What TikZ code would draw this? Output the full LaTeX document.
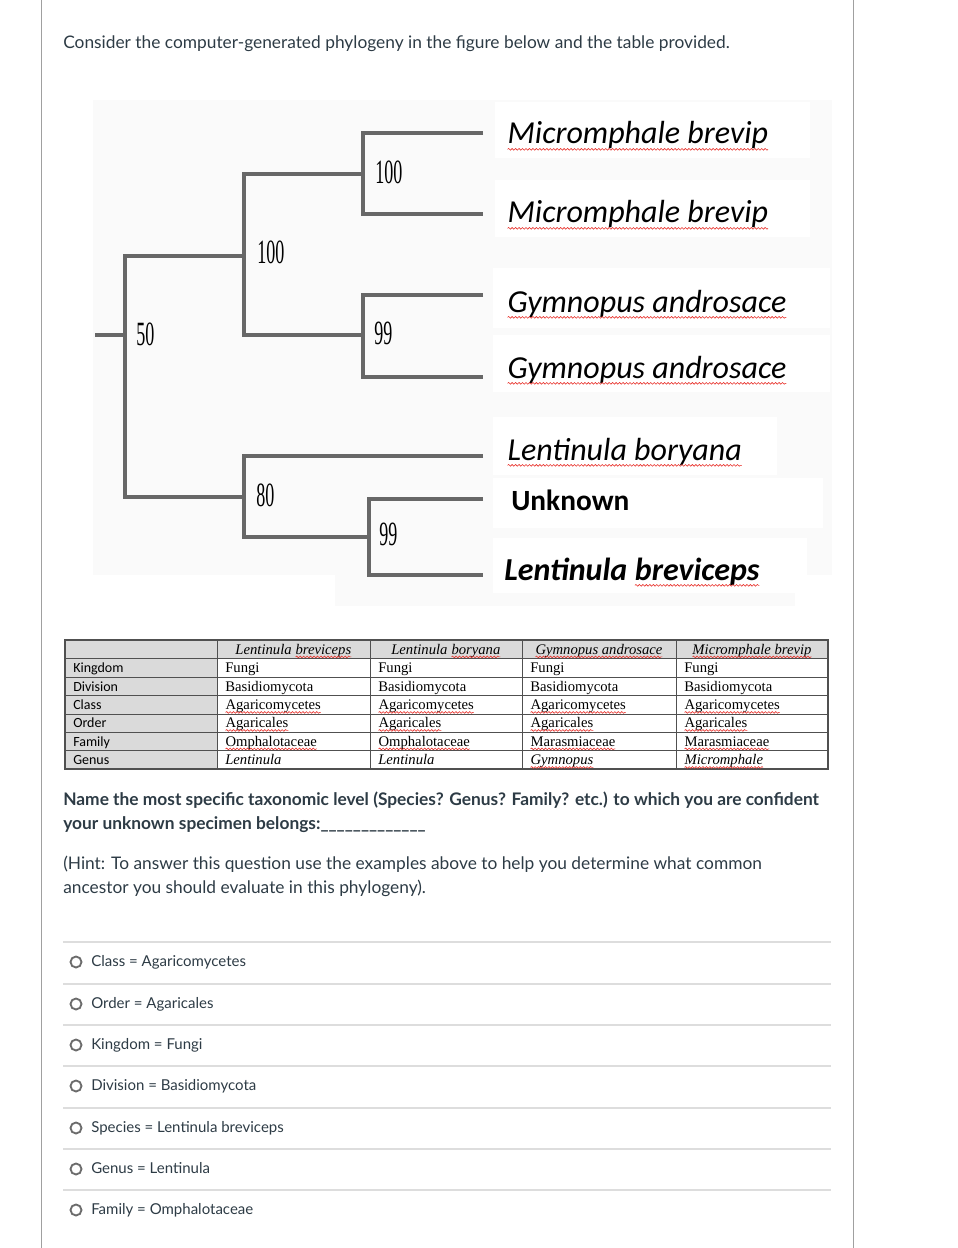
\documentclass[tikz,border=0pt]{standalone}
\usepackage{fontspec}
\usepackage{graphicx}
\setmainfont{Lato}
\newfontfamily\carlito{Carlito}
\newfontfamily\tnr{Liberation Serif}
\usetikzlibrary{decorations.pathmorphing}

\definecolor{txt}{HTML}{2D3B45}
\definecolor{branchgray}{HTML}{676767}
\definecolor{cellgray}{HTML}{DADADA}
\definecolor{gridline}{HTML}{505050}
\definecolor{rulegray}{HTML}{DDDDDD}
\definecolor{framegray}{HTML}{A0A0A0}
\definecolor{bgshade}{HTML}{FAFAFA}
\definecolor{spellred}{HTML}{E8302A}

% red spell-check wave under a word
\newcommand\spell[2][2.2pt]{\tikz[baseline=(sw.base), x=1pt, y=1pt]{%
  \node[inner sep=0pt, outer sep=0pt, anchor=base] (sw) {#2};
  \draw[spellred, line width=0.45pt, decorate,
    decoration={snake, amplitude=0.65pt, segment length=2.6pt}]
    ([yshift=-#1]sw.base west) -- ([yshift=-#1]sw.base east);}}
% squeezed bootstrap numbers
\newcommand\narrow[1]{\scalebox{0.53}[1]{#1}}

\begin{document}
\begin{tikzpicture}[x=0.75pt, y=-0.75pt,
  branch/.style={draw=branchgray, line width=3pt},
  boot/.style={anchor=west, inner sep=0pt, font=\tnr\fontsize{25.5}{26}\selectfont},
  taxon/.style={anchor=base west, inner sep=0pt, font=\carlito\itshape\fontsize{24}{28}\selectfont},
  head/.style={anchor=base, inner sep=0pt, font=\tnr\itshape\fontsize{11}{13}\selectfont},
  cell/.style={anchor=base west, inner sep=0pt, font=\tnr\fontsize{11}{13}\selectfont},
  rank/.style={anchor=base west, inner sep=0pt, font=\carlito\fontsize{10.5}{12}\selectfont},
  para/.style={anchor=base west, inner sep=0pt, text=txt, font=\fontsize{13}{15}\selectfont},
  opt/.style={anchor=base west, inner sep=0pt, text=txt, font=\fontsize{11.25}{13}\selectfont},
  radio/.style={circle, draw=gray!85!black, line width=1.4pt, minimum size=8.25pt, inner sep=0pt}]

\useasboundingbox (0,0) rectangle (957,1248);

% Page frame
\draw[framegray, line width=0.75pt] (41,0) -- (41,1248);
\draw[framegray, line width=0.75pt] (853,0) -- (853,1248);

% Intro line
\node[para] (intro) at (63,49) {Consider the computer-generated phylogeny in the figure below and the table provided.};

% Figure background and label boxes
\fill[bgshade] (93,100) rectangle (832,575);
\fill[bgshade] (335,575) rectangle (795,606);
\fill[white] (495,102) rectangle (810,158);
\fill[white] (495,180) rectangle (810,237);
\fill[white] (493,268) rectangle (830,328);
\fill[white] (493,335) rectangle (830,392);
\fill[white] (493,417) rectangle (777,475);
\fill[white] (493,478) rectangle (823,528);
\fill[white] (493,538) rectangle (807,593);

% Tree nodes
\coordinate (root) at (95,335);
\coordinate (n50) at (125,335);
\coordinate (nA) at (244,256);
\coordinate (nM) at (363,174);
\coordinate (nG) at (363,335);
\coordinate (nL) at (244,497);
\coordinate (nU) at (369,537);

% Leaves
\coordinate (l1) at (483,133);
\coordinate (l2) at (483,214);
\coordinate (l3) at (483,295);
\coordinate (l4) at (483,377);
\coordinate (l5) at (483,456);
\coordinate (l6) at (483,499);
\coordinate (l7) at (483,575);

% Branches
\draw[branch] (root) -- (n50);
\draw[branch] (nA) -| (n50) |- (nL);
\draw[branch] (nM) -| (nA) |- (nG);
\draw[branch] (l1) -| (nM) |- (l2);
\draw[branch] (l3) -| (nG) |- (l4);
\draw[branch] (l5) -| (nL) |- (nU);
\draw[branch] (l6) -| (nU) |- (l7);

% Bootstrap values
\node[boot] (b50) at (136,334) {\narrow{50}};
\node[boot] (bA) at (257,252) {\narrow{100}};
\node[boot] (bM) at (375,172) {\narrow{100}};
\node[boot] (bG) at (374,333) {\narrow{99}};
\node[boot] (bL) at (256,495) {\narrow{80}};
\node[boot] (bU) at (379,534) {\narrow{99}};

% Taxon labels
\node[taxon] (t1) at (507,144) {\spell[4pt]{Micromphale brevip}};
\node[taxon] (t2) at (507,223) {\spell[4pt]{Micromphale brevip}};
\node[taxon] (t3) at (507,312) {\spell[4pt]{Gymnopus androsace}};
\node[taxon] (t4) at (507,378) {\spell[4pt]{Gymnopus androsace}};
\node[taxon] (t5) at (507,460) {\spell[4pt]{Lentinula boryana}};
\node[taxon, font=\carlito\bfseries\fontsize{22}{26}\selectfont] (t6) at (511,510) {Unknown};
\node[taxon, font=\carlito\bfseries\itshape\fontsize{24}{28}\selectfont] (t7) at (504,580) {Lentinula \spell[4pt]{breviceps}};

% Table shading
\fill[cellgray] (65,640) rectangle (828,658.5);
\fill[cellgray] (65,658.5) rectangle (217,769);

% Table grid
\draw[gridline, line width=0.9pt] (65,640) rectangle (828,769);
\draw[gridline, line width=0.75pt] (65,658.5) -- (828,658.5);
\draw[gridline, line width=0.75pt] (65,677) -- (828,677);
\draw[gridline, line width=0.75pt] (65,695.5) -- (828,695.5);
\draw[gridline, line width=0.75pt] (65,714) -- (828,714);
\draw[gridline, line width=0.75pt] (65,732) -- (828,732);
\draw[gridline, line width=0.75pt] (65,750.5) -- (828,750.5);
\draw[gridline, line width=0.75pt] (217,640) -- (217,769);
\draw[gridline, line width=0.75pt] (370,640) -- (370,769);
\draw[gridline, line width=0.75pt] (522,640) -- (522,769);
\draw[gridline, line width=0.75pt] (676,640) -- (676,769);

% Table header
\node[head] (h1) at (293.5,654) {Lentinula \spell{breviceps}};
\node[head] (h2) at (446,654) {Lentinula \spell{boryana}};
\node[head] (h3) at (599,654) {\spell{Gymnopus androsace}};
\node[head] (h4) at (752,654) {\spell{Micromphale brevip}};

% Kingdom
\node[rank] (rK) at (73,672.5) {Kingdom};
\node[cell] (k1) at (225,672.5) {Fungi};
\node[cell] (k2) at (378,672.5) {Fungi};
\node[cell] (k3) at (530,672.5) {Fungi};
\node[cell] (k4) at (684,672.5) {Fungi};

% Division
\node[rank] (rD) at (73,691) {Division};
\node[cell] (d1) at (225,691) {Basidiomycota};
\node[cell] (d2) at (378,691) {Basidiomycota};
\node[cell] (d3) at (530,691) {Basidiomycota};
\node[cell] (d4) at (684,691) {Basidiomycota};

% Class
\node[rank] (rC) at (73,709.5) {Class};
\node[cell] (c1) at (225,709.5) {\spell{Agaricomycetes}};
\node[cell] (c2) at (378,709.5) {\spell{Agaricomycetes}};
\node[cell] (c3) at (530,709.5) {\spell{Agaricomycetes}};
\node[cell] (c4) at (684,709.5) {\spell{Agaricomycetes}};

% Order
\node[rank] (rO) at (73,727.5) {Order};
\node[cell] (o1) at (225,727.5) {\spell{Agaricales}};
\node[cell] (o2) at (378,727.5) {\spell{Agaricales}};
\node[cell] (o3) at (530,727.5) {\spell{Agaricales}};
\node[cell] (o4) at (684,727.5) {\spell{Agaricales}};

% Family
\node[rank] (rF) at (73,746) {Family};
\node[cell] (f1) at (225,746) {\spell{Omphalotaceae}};
\node[cell] (f2) at (378,746) {\spell{Omphalotaceae}};
\node[cell] (f3) at (530,746) {\spell{Marasmiaceae}};
\node[cell] (f4) at (684,746) {\spell{Marasmiaceae}};

% Genus
\node[rank] (rG) at (73,764.5) {Genus};
\node[cell] (g1) at (225,764.5) {\textit{Lentinula}};
\node[cell] (g2) at (378,764.5) {\textit{Lentinula}};
\node[cell] (g3) at (530,764.5) {\spell{\textit{Gymnopus}}};
\node[cell] (g4) at (684,764.5) {\spell{\textit{Micromphale}}};

% Question
\node[para, font=\bfseries\fontsize{13}{15}\selectfont] (q1) at (63,805) {Name the most specific taxonomic level (Species? Genus? Family? etc.) to which you are confident};
\node[para, font=\bfseries\fontsize{13}{15}\selectfont] (q2) at (63,829) {your unknown specimen belongs:\_\_\_\_\_\_\_\_\_\_\_\_\_};
\node[para] (hint1) at (63,869) {(Hint: To answer this question use the examples above to help you determine what common};
\node[para] (hint2) at (63,893) {ancestor you should evaluate in this phylogeny).};

% Answer separators
\draw[rulegray, line width=0.9pt] (63,942) -- (831,942);
\draw[rulegray, line width=0.9pt] (63,984) -- (831,984);
\draw[rulegray, line width=0.9pt] (63,1025) -- (831,1025);
\draw[rulegray, line width=0.9pt] (63,1066) -- (831,1066);
\draw[rulegray, line width=0.9pt] (63,1108) -- (831,1108);
\draw[rulegray, line width=0.9pt] (63,1149) -- (831,1149);
\draw[rulegray, line width=0.9pt] (63,1190) -- (831,1190);

% Answers
\node[radio] (r1) at (76,962) {};
\node[opt] (a1) at (91,966) {Class = Agaricomycetes};
\node[radio] (r2) at (76,1004) {};
\node[opt] (a2) at (91,1008) {Order = Agaricales};
\node[radio] (r3) at (76,1045) {};
\node[opt] (a3) at (91,1049) {Kingdom = Fungi};
\node[radio] (r4) at (76,1086) {};
\node[opt] (a4) at (91,1090) {Division = Basidiomycota};
\node[radio] (r5) at (76,1128) {};
\node[opt] (a5) at (91,1132) {Species = Lentinula breviceps};
\node[radio] (r6) at (76,1169) {};
\node[opt] (a6) at (91,1173) {Genus = Lentinula};
\node[radio] (r7) at (76,1210) {};
\node[opt] (a7) at (91,1214) {Family = Omphalotaceae};

\end{tikzpicture}
\end{document}
